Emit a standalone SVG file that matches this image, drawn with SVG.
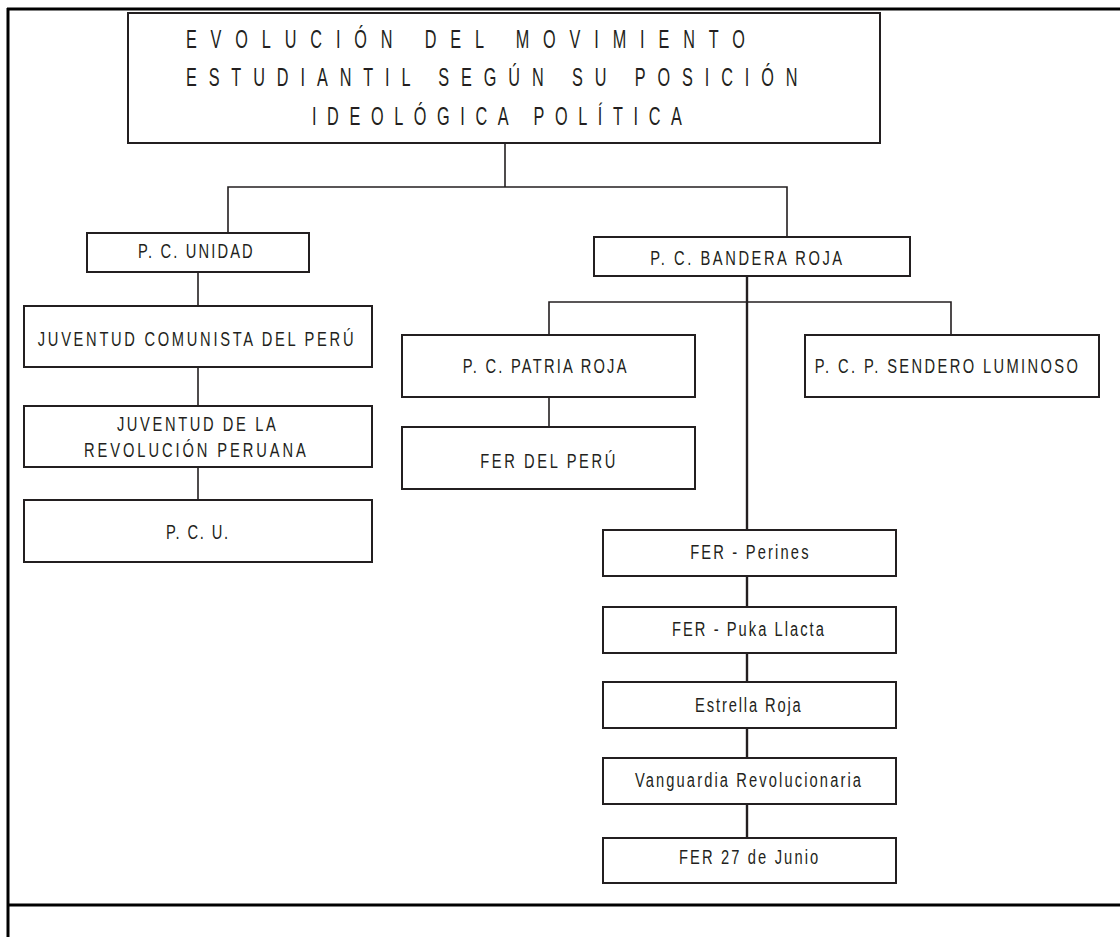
<svg xmlns="http://www.w3.org/2000/svg" width="1120" height="937" viewBox="0 0 1120 937">
<style>
.frame{stroke:#000;stroke-width:3;fill:none}
.box{fill:#fff;stroke:#231f20;stroke-width:2}
.con{stroke:#231f20;stroke-width:1.6;fill:none}
.main{stroke:#231f20;stroke-width:2.4;fill:none}
text{font-family:"Liberation Sans",Arial,sans-serif;font-size:21px;fill:#231f20}
.t{font-size:25px}
</style>
<rect width="1120" height="937" fill="#fff"/>
<g id="frame">
<line class="frame" x1="7" y1="9" x2="1120" y2="9"/>
<line class="frame" x1="8" y1="8" x2="8" y2="937"/>
<line class="frame" x1="7" y1="905" x2="1120" y2="905"/>
</g>
<g id="connectors">
<polyline class="con" points="505,143 505,187"/>
<polyline class="con" points="228,233 228,187 787,187 787,237"/>
<line class="con" x1="198" y1="272" x2="198" y2="306"/>
<line class="con" x1="198" y1="367" x2="198" y2="406"/>
<line class="con" x1="198" y1="467" x2="198" y2="500"/>
<line class="main" x1="747" y1="276" x2="747" y2="530"/>
<polyline class="con" points="549,335 549,302 951,302 951,335"/>
<line class="con" x1="549" y1="397" x2="549" y2="427"/>
<line class="main" x1="747" y1="576" x2="747" y2="607"/>
<line class="main" x1="747" y1="653" x2="747" y2="682"/>
<line class="main" x1="747" y1="728" x2="747" y2="758"/>
<line class="main" x1="747" y1="804" x2="747" y2="838"/>
</g>
<g id="title">
<rect class="box" x="128" y="13" width="752" height="130"/>
<text class="t" transform="scale(0.65,1)" x="286" y="48" textLength="860" lengthAdjust="spacing">EVOLUCIÓN  DEL  MOVIMIENTO</text>
<text class="t" transform="scale(0.65,1)" x="286" y="86" textLength="941" lengthAdjust="spacing">ESTUDIANTIL  SEGÚN  SU  POSICIÓN</text>
<text class="t" transform="scale(0.65,1)" x="480" y="125" textLength="569" lengthAdjust="spacing">IDEOLÓGICA  POLÍTICA</text>
</g>
<g id="pc-unidad">
<rect class="box" x="87" y="233" width="222" height="39"/>
<text transform="scale(0.7,1)" x="197" y="258" textLength="164" lengthAdjust="spacing">P. C. UNIDAD</text>
</g>
<g id="juventud-comunista">
<rect class="box" x="24" y="306" width="348" height="61"/>
<text transform="scale(0.7,1)" x="54" y="346" textLength="451" lengthAdjust="spacing">JUVENTUD COMUNISTA DEL PERÚ</text>
</g>
<g id="juventud-revolucion">
<rect class="box" x="24" y="406" width="348" height="61"/>
<text transform="scale(0.7,1)" x="167" y="431" textLength="227" lengthAdjust="spacing">JUVENTUD DE LA</text>
<text transform="scale(0.7,1)" x="120" y="457" textLength="317" lengthAdjust="spacing">REVOLUCIÓN PERUANA</text>
</g>
<g id="pcu">
<rect class="box" x="24" y="500" width="348" height="62"/>
<text transform="scale(0.7,1)" x="237" y="539" textLength="89" lengthAdjust="spacing">P. C. U.</text>
</g>
<g id="pc-bandera-roja">
<rect class="box" x="594" y="237" width="316" height="39"/>
<text transform="scale(0.7,1)" x="929" y="265" textLength="274" lengthAdjust="spacing">P. C. BANDERA ROJA</text>
</g>
<g id="pc-patria-roja">
<rect class="box" x="402" y="335" width="293" height="62"/>
<text transform="scale(0.7,1)" x="661" y="373" textLength="234" lengthAdjust="spacing">P. C. PATRIA ROJA</text>
</g>
<g id="fer-del-peru">
<rect class="box" x="402" y="427" width="293" height="62"/>
<text transform="scale(0.7,1)" x="686" y="468" textLength="193" lengthAdjust="spacing">FER DEL PERÚ</text>
</g>
<g id="pcp-sendero-luminoso">
<rect class="box" x="805" y="335" width="294" height="62"/>
<text transform="scale(0.7,1)" x="1164" y="373" textLength="376" lengthAdjust="spacing">P. C. P. SENDERO LUMINOSO</text>
</g>
<g id="fer-perines">
<rect class="box" x="603" y="530" width="293" height="46"/>
<text transform="scale(0.7,1)" x="986" y="559" textLength="169" lengthAdjust="spacing">FER - Perines</text>
</g>
<g id="fer-puka-llacta">
<rect class="box" x="603" y="607" width="293" height="46"/>
<text transform="scale(0.7,1)" x="960" y="636" textLength="217" lengthAdjust="spacing">FER - Puka Llacta</text>
</g>
<g id="estrella-roja">
<rect class="box" x="603" y="682" width="293" height="46"/>
<text transform="scale(0.7,1)" x="993" y="712" textLength="151" lengthAdjust="spacing">Estrella Roja</text>
</g>
<g id="vanguardia-revolucionaria">
<rect class="box" x="603" y="758" width="293" height="46"/>
<text transform="scale(0.7,1)" x="907" y="787" textLength="323" lengthAdjust="spacing">Vanguardia Revolucionaria</text>
</g>
<g id="fer-27-junio">
<rect class="box" x="603" y="838" width="293" height="45"/>
<text transform="scale(0.7,1)" x="970" y="864" textLength="199" lengthAdjust="spacing">FER 27 de Junio</text>
</g>
</svg>
